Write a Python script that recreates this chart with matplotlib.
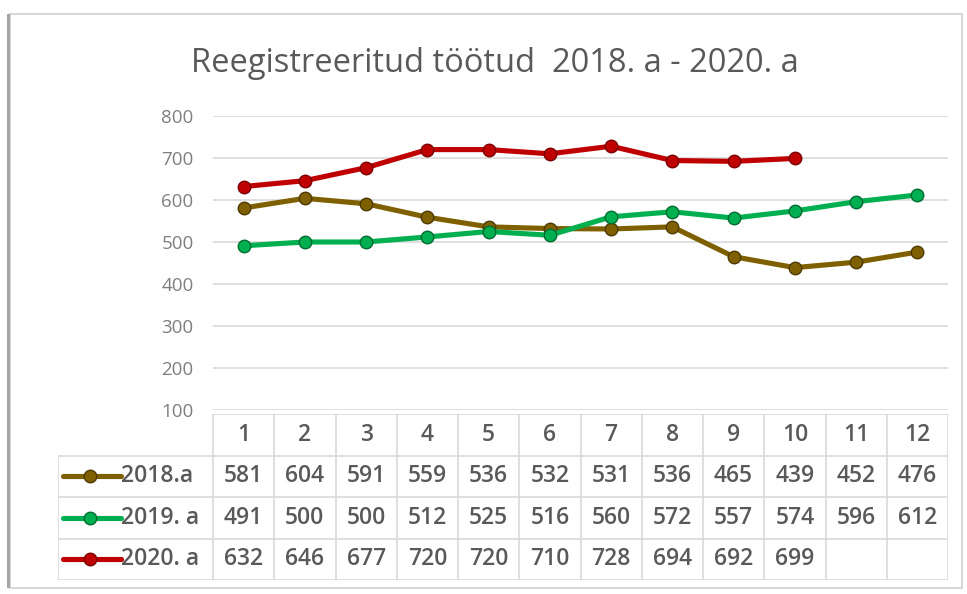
import matplotlib
matplotlib.use("Agg")
import matplotlib.pyplot as plt
from matplotlib.lines import Line2D
from matplotlib.patches import Rectangle

# data
months = [1, 2, 3, 4, 5, 6, 7, 8, 9, 10, 11, 12]
series_names = ["2018.a", "2019. a", "2020. a"]
vals_2018 = [581, 604, 591, 559, 536, 532, 531, 536, 465, 439, 452, 476]
vals_2019 = [491, 500, 500, 512, 525, 516, 560, 572, 557, 574, 596, 612]
vals_2020 = [632, 646, 677, 720, 720, 710, 728, 694, 692, 699]
y_ticks = [100, 200, 300, 400, 500, 600, 700, 800]

colors = ["#7f6000", "#00b050", "#c00000"]
edge_colors = ["#4d3a00", "#006b30", "#7a0000"]
text_gray = "#595959"
grid_gray = "#d9d9d9"

W, H = 967, 594
plt.rcParams['font.family'] = ['Open Sans', 'DejaVu Sans']
fig = plt.figure(figsize=(W / 100, H / 100), dpi=100)

# outer frame
fig.patches.append(Rectangle((10 / W, 6 / H), 952 / W, 574 / H, transform=fig.transFigure,
                             fill=False, edgecolor="#d0d0d0", lw=1.2))
fig.patches.append(Rectangle((7 / W, 6 / H), 3 / W, 574 / H, transform=fig.transFigure,
                             color="#a6a6a6", lw=0))

fig.text(495 / W, 1 - 64 / H, "Reegistreeritud töötud  2018. a - 2020. a",
         ha="center", va="center", fontsize=23.5, color=text_gray)

# plot area
left, right = 213 / W, 948 / W
top, bottom = 1 - 116 / H, 1 - 410 / H
ax = fig.add_axes([left, bottom, right - left, top - bottom])
ax.set_xlim(0.5, 12.5)
ax.set_ylim(100, 800)
ax.set_yticks(y_ticks)
ax.set_yticklabels([str(v) for v in y_ticks])
ax.tick_params(axis="y", length=0, labelsize=13.5, labelcolor="#7f7f7f", pad=14)
ax.set_xticks([])
ax.grid(axis="y", color=grid_gray, lw=1.2)
ax.set_axisbelow(True)
for s in ax.spines.values():
    s.set_visible(False)

all_vals = [vals_2018, vals_2019, vals_2020]
for vals, c, ec in zip(all_vals, colors, edge_colors):
    ax.plot(months[:len(vals)], vals, color=c, lw=3.7, marker="o", markersize=9,
            markerfacecolor=c, markeredgecolor=ec, markeredgewidth=1, solid_capstyle="round")

# data table below
tab_left = 58 / W
tab = fig.add_axes([tab_left, 14 / H, right - tab_left, (580 - 414) / H])
cat_w = (right - left) / 12
legend_w = (left - tab_left) / cat_w  # legend column width in category units
tab.set_xlim(0.5 - legend_w, 12.5)
tab.set_ylim(4, 0)
tab.axis("off")

line_kw = dict(color=grid_gray, lw=1.2)
# horizontal lines
tab.plot([0.5, 12.5], [0, 0], **line_kw)
for r in range(1, 5):
    tab.plot([0.5 - legend_w, 12.5], [r, r], **line_kw)
# vertical lines
tab.plot([0.5 - legend_w, 0.5 - legend_w], [1, 4], **line_kw)
for k in range(13):
    tab.plot([k + 0.5, k + 0.5], [0, 4], **line_kw)

cell_kw = dict(va="center", fontsize=16.5, color=text_gray, fontweight="semibold")
for m in months:
    tab.text(m, 0.5, str(m), ha="center", **cell_kw)

for r, (name, vals, c, ec) in enumerate(zip(series_names, all_vals, colors, edge_colors)):
    y = r + 1.5
    x0 = 0.5 - legend_w + 0.08
    tab.add_line(Line2D([x0, x0 + 0.95], [y, y], color=c, lw=3.7, solid_capstyle="round"))
    tab.plot([x0 + 0.45], [y], marker="o", markersize=9, color=c, markeredgecolor=ec)
    tab.text(x0 + 0.95, y, name, ha="left", **cell_kw)
    for m, v in zip(months, vals):
        tab.text(m, y, str(v), ha="center", **cell_kw)

fig.savefig("out.png", dpi=100)
